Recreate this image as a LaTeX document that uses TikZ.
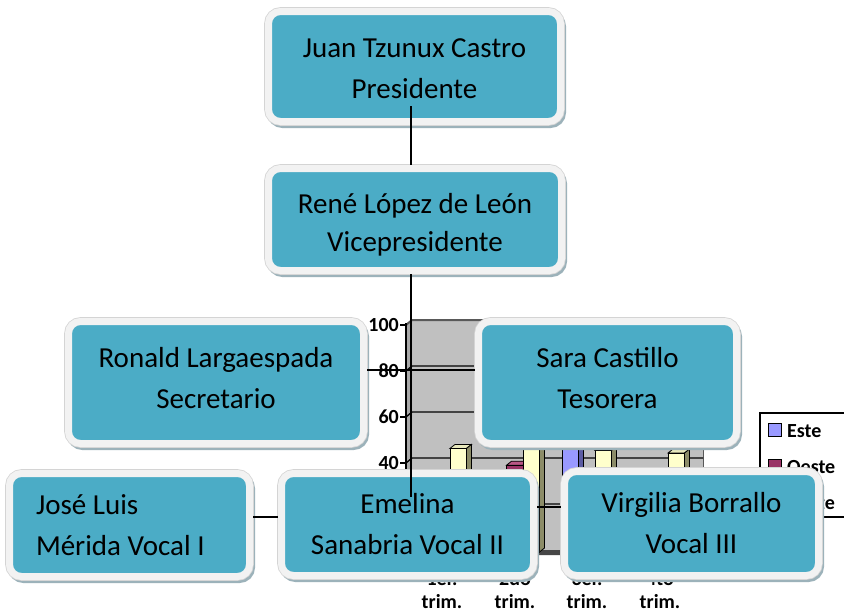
\documentclass[tikz,border=0pt]{standalone}
\usepackage{fontspec}
\setmainfont{Carlito}
\definecolor{teal0}{HTML}{4BACC6}
\definecolor{frame0}{HTML}{F2F2F2}
\definecolor{edge0}{HTML}{D4D4D4}
\definecolor{shad0}{HTML}{9CB2BA}
\definecolor{wall0}{HTML}{C0C0C0}
\definecolor{esteF}{HTML}{9999FF}
\definecolor{esteS}{HTML}{5C5CA3}
\definecolor{esteT}{HTML}{BBBBFF}
\definecolor{oesteF}{HTML}{993366}
\definecolor{oesteS}{HTML}{5E1F3F}
\definecolor{oesteT}{HTML}{B85785}
\definecolor{norteF}{HTML}{FFFFCC}
\definecolor{norteS}{HTML}{8C8C68}
\definecolor{norteT}{HTML}{E8E8BC}
\newcommand\cbar[5]{%
  \pgfmathsetmacro\ytop{554-2.3*#2}%
  \filldraw[fill=#5,draw=black,line width=0.8pt] (#1,\ytop) -- ++(5,-4) -- ++(16.5,0) -- ++(-5,4) -- cycle;
  \filldraw[fill=#4,draw=black,line width=0.8pt] (#1+16.5,\ytop) -- ++(5,-4) -- (#1+21.5,548) -- (#1+16.5,552) -- cycle;
  \filldraw[fill=#3,draw=black,line width=0.8pt] (#1,\ytop) rectangle (#1+16.5,552);
}
\newcommand\tstr[1]{\rule{0pt}{#1}}
\newcommand\bstr[1]{\rule[-#1]{0pt}{#1}}
\tikzset{
  orgbox/.style={fill=teal0, draw=frame0, line width=7pt, rounded corners=12pt,
    align=center, inner sep=0pt, text=black, font=\fontsize{29}{41}\selectfont,
    preaction={fill=shad0, draw=shad0, line width=7pt, transform canvas={xshift=2pt,yshift=-3pt}},
    preaction={draw=edge0, line width=8.6pt}},
  conn/.style={draw=black, line width=1.5pt},
  chartlbl/.style={font=\bfseries\fontsize{20}{24}\selectfont, inner sep=0pt, text=black},
  legsq/.style={draw=black, line width=1.3pt, minimum size=13pt, inner sep=0pt},
}
\begin{document}
\begin{tikzpicture}[x=1pt,y=-1pt]
\useasboundingbox (0,0) rectangle (844,613);
\fill[white] (0,0) rectangle (844,613);

% ---- chart behind the org chart ----
\fill[wall0] (412,320) rectangle (703,550);
\fill[wall0!88!black] (406,325) -- (412,320) -- (412,550) -- (406,555) -- cycle;
\fill[gray!55!black] (406,555) -- (412,550) -- (703,550) -- (698,555) -- cycle;
\draw[gray!70!black, line width=2pt] (406,325) -- (412,320) -- (703,320);
\draw[gray!70!black, line width=0.8pt] (703,320) -- (703,550);
\foreach \g in {366,412,458,504} \draw[black, line width=1.3pt] (406,\g+5) -- (412,\g) -- (703,\g);

\cbar{417}{20.4}{esteF}{esteS}{esteT}
\cbar{433.5}{30.6}{oesteF}{oesteS}{oesteT}
\cbar{450}{45.9}{norteF}{norteS}{norteT}
\cbar{490}{27.4}{esteF}{esteS}{esteT}
\cbar{506.5}{38.6}{oesteF}{oesteS}{oesteT}
\cbar{523}{46.9}{norteF}{norteS}{norteT}
\cbar{562}{90}{esteF}{esteS}{esteT}
\cbar{578.5}{34.6}{oesteF}{oesteS}{oesteT}
\cbar{595}{45}{norteF}{norteS}{norteT}
\cbar{635}{20.4}{esteF}{esteS}{esteT}
\cbar{651.5}{31.6}{oesteF}{oesteS}{oesteT}
\cbar{668}{43.9}{norteF}{norteS}{norteT}

\draw[black, line width=1.5pt] (406,323) -- (406,555);
\foreach \t in {325,371,417,463,509,555} \draw[black, line width=1.3pt] (400,\t) -- (406,\t);
\node[chartlbl, anchor=east] (y100) at (399,325) {100};
\node[chartlbl, anchor=east] (y80) at (399,371) {80};
\node[chartlbl, anchor=east] (y60) at (399,417) {60};
\node[chartlbl, anchor=east] (y40) at (399,463) {40};

\node[chartlbl, anchor=base] (c1a) at (442,585) {1er.};
\node[chartlbl, anchor=base] (c2a) at (515,585) {2do};
\node[chartlbl, anchor=base] (c3a) at (587,585) {3er.};
\node[chartlbl, anchor=base] (c4a) at (660,585) {4to};
\node[chartlbl, anchor=base] (c1b) at (442,608) {trim.};
\node[chartlbl, anchor=base] (c2b) at (515,608) {trim.};
\node[chartlbl, anchor=base] (c3b) at (587,608) {trim.};
\node[chartlbl, anchor=base] (c4b) at (660,608) {trim.};

\draw[black, line width=1.5pt, fill=white] (760,413) rectangle (880,517);
\node[legsq, fill=esteF] (lq1) at (775,430) {};
\node[legsq, fill=oesteF] (lq2) at (775,466) {};
\node[legsq, fill=norteF] (lq3) at (775,502) {};
\node[chartlbl, anchor=west] (lt1) at (787,431) {Este};
\node[chartlbl, anchor=west] (lt2) at (787,467) {Oeste};
\node[chartlbl, anchor=west] (lt3) at (787,503) {Norte};

% ---- org chart boxes ----
\node[orgbox, minimum width=292pt, minimum height=110pt] (pres) at (414.5,66.5) {\tstr{24pt}Juan Tzunux Castro\\Presidente};
\node[orgbox, font=\fontsize{29}{38}\selectfont, minimum width=293pt, minimum height=102pt] (vp) at (415,219.5) {\tstr{31pt}René López de León\\Vicepresidente};
\node[orgbox, minimum width=295pt, minimum height=122pt] (ron) at (216,382.5) {Ronald Largaespada\\Secretario\bstr{10pt}};
\node[orgbox, minimum width=258pt, minimum height=122pt] (sara) at (607.5,382.5) {Sara Castillo\\Tesorera\bstr{10pt}};
\node[orgbox, minimum width=240pt, minimum height=103pt, align=flush left, text width=187pt, inner xsep=26.5pt] (jose) at (129.5,525) {José Luis\\Mérida Vocal I};
\node[orgbox, minimum width=252pt, minimum height=102pt] (emel) at (407.5,524.5) {Emelina\\Sanabria Vocal II};
\node[orgbox, minimum width=254pt, minimum height=104pt] (virg) at (691.5,523.5) {Virgilia Borrallo\\Vocal III};

% ---- connectors ----
\coordinate (pv) at (411,106);
\coordinate (vbot) at (411,497);
\coordinate (rsy) at (0,370);
\coordinate (jey) at (0,517);
\coordinate (evy) at (0,507);
\draw[conn] (pv) -- (pv |- vp.north);
\draw[conn] (vp.south -| vbot) -- (vbot);
\draw[conn] (ron.east |- rsy) -- (sara.west |- rsy);
\draw[conn] (jose.east |- jey) -- (emel.west |- jey);
\draw[conn] (emel.east |- evy) -- (virg.west |- evy);
\end{tikzpicture}
\end{document}
